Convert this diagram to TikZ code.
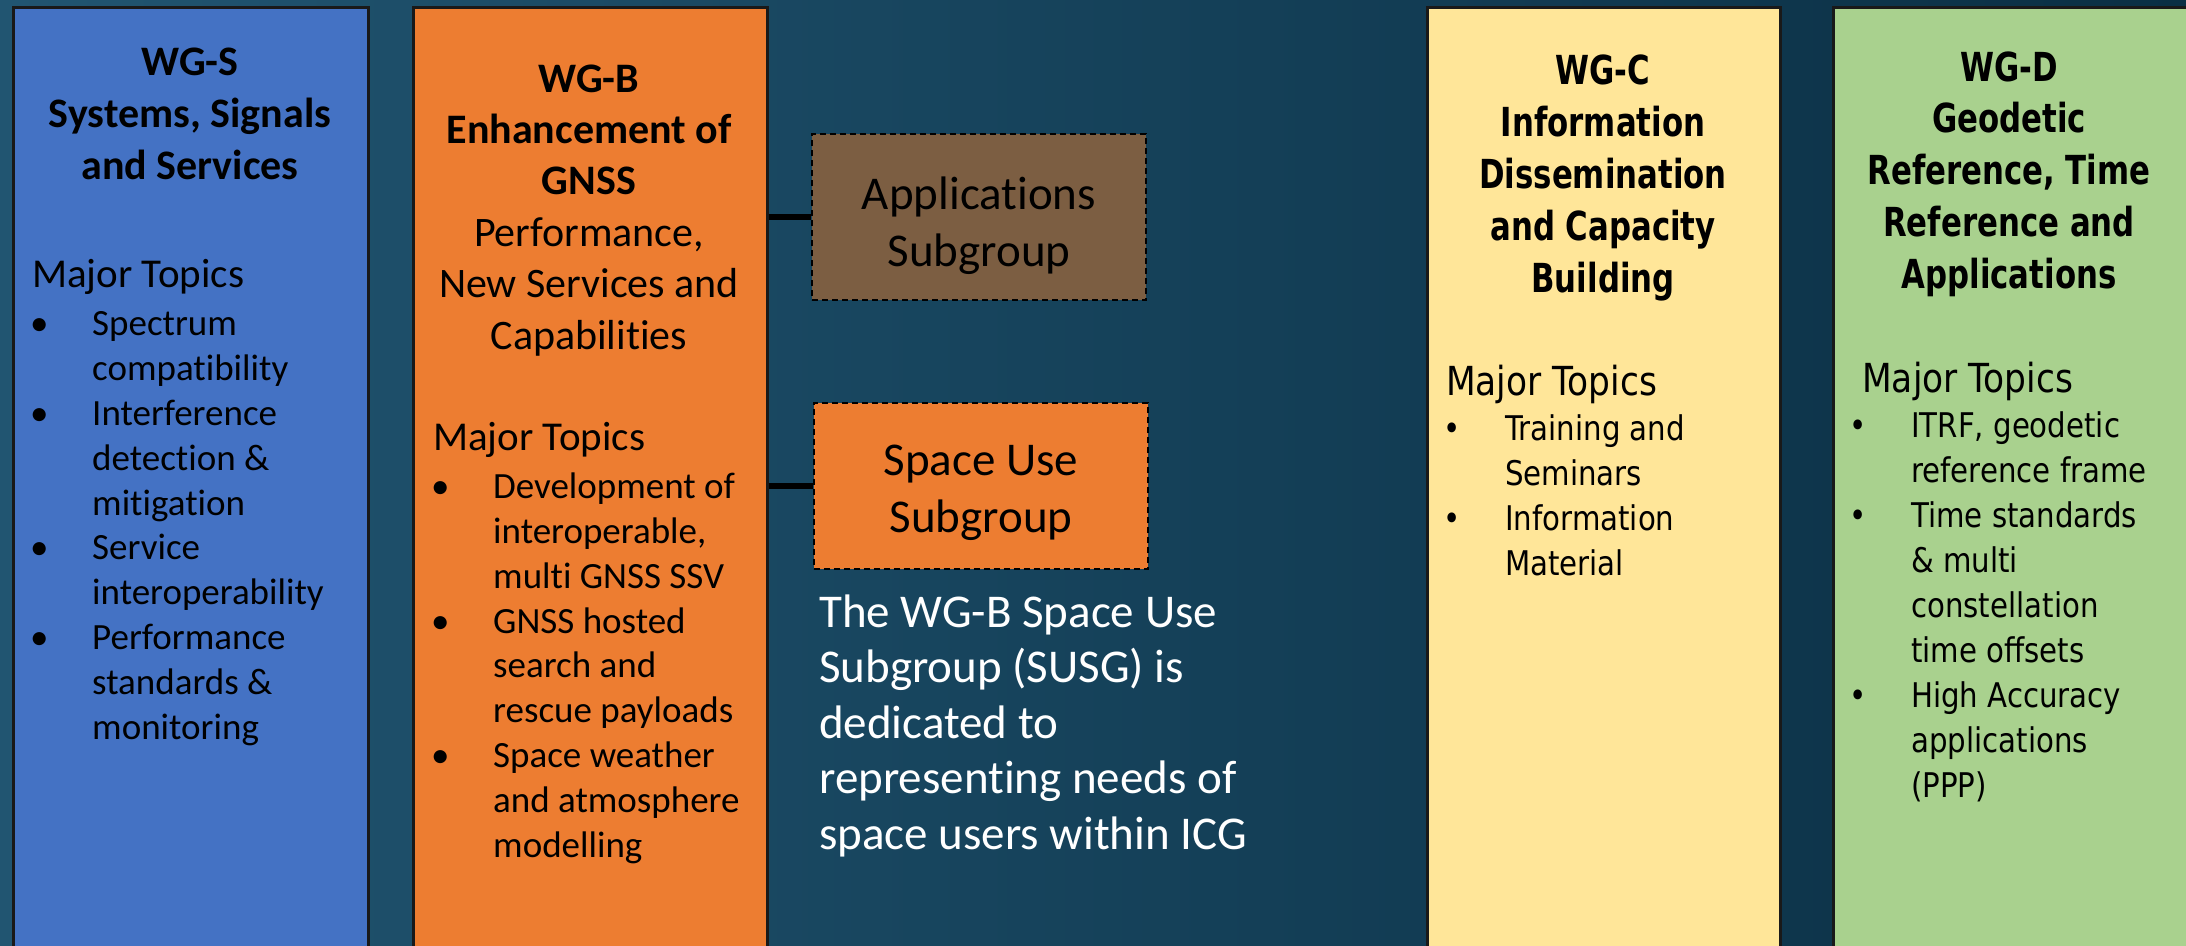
\documentclass[tikz,border=0pt]{standalone}
\usepackage{fontspec}
\setmainfont{Carlito}[Ligatures={NoCommon}]
\newfontfamily\dvreg[FakeStretch=0.86]{DejaVu Sans}
\newfontfamily\dvbold[FakeStretch=0.77]{DejaVu Sans}
\definecolor{bgL}{HTML}{215571}
\definecolor{bgR}{HTML}{0A2F44}
\definecolor{wgsblue}{HTML}{4472C4}
\definecolor{wgborange}{HTML}{ED7D31}
\definecolor{appbrown}{HTML}{7C5E42}
\definecolor{wgcyellow}{HTML}{FFE699}
\definecolor{wgdgreen}{HTML}{A9D18E}
\newcommand{\bul}{\llap{\makebox[62pt][l]{\textbullet}}}
\tikzset{
  wgbox/.style={draw=black!90, line width=2.5pt, anchor=north west, minimum height=960pt, inner sep=0pt},
  subbox/.style={draw=black, line width=2pt, dash pattern=on 6pt off 4pt, minimum width=334pt, minimum height=166pt, inner sep=0pt},
  subtext/.style={anchor=base, align=center, inner sep=0pt, font=\fontsize{47}{57}\selectfont},
  conn/.style={draw=black, line width=6pt},
  ctitle/.style={anchor=base, align=center, inner sep=0pt, font=\bfseries\fontsize{42}{52}\selectfont},
  cmajor/.style={anchor=base west, inner sep=0pt, font=\fontsize{41}{50}\selectfont},
  clist/.style={anchor=base west, align=left, inner sep=0pt, font=\fontsize{37}{44.8}\selectfont},
  dtitle/.style={anchor=base, align=center, inner sep=0pt, font=\dvbold\bfseries\fontsize{40}{52}\selectfont},
  dmajor/.style={anchor=base west, inner sep=0pt, font=\dvreg\fontsize{40}{50}\selectfont},
  dlist/.style={anchor=base west, align=left, inner sep=0pt, font=\dvreg\fontsize{34}{45}\selectfont},
}
\begin{document}
\begin{tikzpicture}[x=1pt, y=-1pt]
\useasboundingbox (0,0) rectangle (2186,945);
\clip (0,0) rectangle (2186,945);
\shade[left color=bgL, right color=bgR] (0,0) rectangle (2186,945);

% main columns
\node[wgbox, fill=wgsblue, minimum width=355pt] (wgs) at (12,6) {};
\node[wgbox, fill=wgborange, minimum width=354pt] (wgb) at (412,6) {};
\node[wgbox, fill=wgcyellow, minimum width=353pt] (wgc) at (1426,6) {};
\node[wgbox, fill=wgdgreen, minimum width=400pt] (wgd) at (1832,6) {};

% subgroups
\node[subbox, fill=appbrown] (app) at (979,217) {};
\node[subbox, fill=wgborange] (susg) at (981,486) {};
\node[subtext] (appT) at (app.center |- 0,266) {Applications\\Subgroup};
\node[subtext] (susgT) at (susg.center |- 0,532) {Space Use\\Subgroup};
\draw[conn] (app.west -| wgb.east) -- (app.west);
\draw[conn] (susg.west -| wgb.east) -- (susg.west);

% (anchor base of a multi-line node = baseline of its last line)
\node[anchor=base west, align=left, inner sep=0pt, text=white, font=\fontsize{47}{55.5}\selectfont] (susgtext) at (819,849)
  {The WG-B Space Use\\Subgroup (SUSG) is\\dedicated to\\representing needs of\\space users within ICG};

% WG-S
\node[ctitle] (wgsT) at (190,179) {WG-S\\Systems, Signals\\and Services};
\node[cmajor] (wgsM) at (32,287) {Major Topics};
\node[clist] (wgsL) at (92,739) {\bul Spectrum\\compatibility\\\bul Interference\\detection \&\\mitigation\\\bul Service\\interoperability\\\bul Performance\\standards \&\\monitoring};

% WG-B
\node[anchor=base, align=center, inner sep=0pt, font=\fontsize{42}{51.4}\selectfont] (wgbT) at (589,349)
  {\textbf{WG-B}\\\textbf{Enhancement of}\\\textbf{GNSS}\\Performance,\\New Services and\\Capabilities};
\node[cmajor] (wgbM) at (433,450) {Major Topics};
\node[clist] (wgbL) at (493,857) {\bul Development of\\interoperable,\\multi GNSS SSV\\\bul GNSS hosted\\search and\\rescue payloads\\\bul Space weather\\and atmosphere\\modelling};

% WG-C
\node[dtitle] (wgcT) at (1603,292) {WG-C\\Information\\Dissemination\\and Capacity\\Building};
\node[dmajor] (wgcM) at (1446,395) {Major Topics};
\node[dlist] (wgcL) at (1505,575) {\bul Training and\\Seminars\\\bul Information\\Material};

% WG-D
\node[dtitle, font=\dvbold\bfseries\fontsize{40}{51.75}\selectfont] (wgdT) at (2009,288) {WG-D\\Geodetic\\Reference, Time\\Reference and\\Applications};
\node[dmajor] (wgdM) at (1862,392) {Major Topics};
\node[dlist] (wgdL) at (1911,797) {\bul ITRF, geodetic\\reference frame\\\bul Time standards\\\& multi\\constellation\\time offsets\\\bul High Accuracy\\applications\\(PPP)};
\end{tikzpicture}
\end{document}
